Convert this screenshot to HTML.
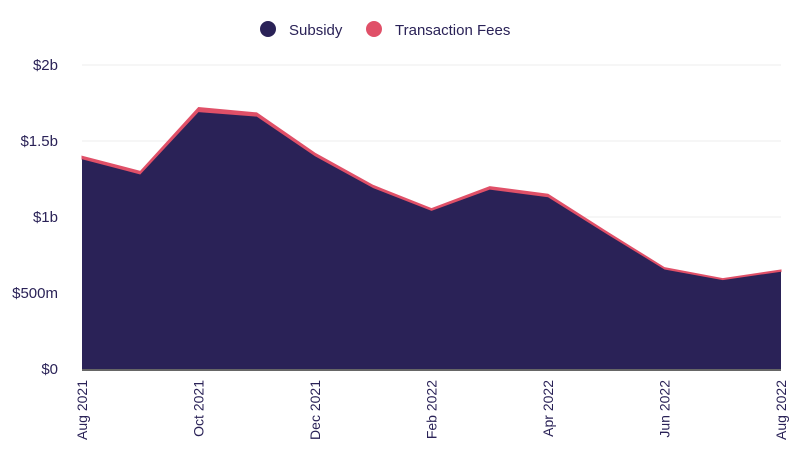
<!DOCTYPE html>
<html><head><meta charset="utf-8"><style>
body{margin:0;background:#fff;}
svg{display:block;font-family:"Liberation Sans",sans-serif;}
</style></head><body>
<svg id="chart" width="800" height="465">
<g>
<g>
<circle cx="268" cy="29" r="8" fill="#2a2257"/>
<text x="289" y="35" font-size="15" fill="#2a2257">Subsidy</text></g>
<g>
<circle cx="374" cy="29" r="8" fill="#e05068"/>
<text x="395" y="35" font-size="15" fill="#2a2257">Transaction Fees</text></g>
</g>
<g id="grid"></g>
<g id="yaxis"></g>
<g id="areas"></g>
<g id="xaxis"></g>
</svg>
<script>
const months=["Aug 2021","Sep 2021","Oct 2021","Nov 2021","Dec 2021","Jan 2022","Feb 2022","Mar 2022","Apr 2022","May 2022","Jun 2022","Jul 2022","Aug 2022"];
const subsidy=[1.38,1.28,1.69,1.66,1.40,1.19,1.04,1.18,1.13,0.89,0.655,0.585,0.64];
const fees=[0.02,0.02,0.03,0.025,0.02,0.018,0.015,0.02,0.02,0.015,0.012,0.01,0.012];
const yTicks=[0,0.5,1,1.5,2];
const yTickLabels=["$0","$500m","$1b","$1.5b","$2b"];
const xTickLabels=["Aug 2021","Oct 2021","Dec 2021","Feb 2022","Apr 2022","Jun 2022","Aug 2022"];

const ns="http://www.w3.org/2000/svg";
const X0=82,X1=781,Y0=369,Y1=65;
const xs=i=>X0+(X1-X0)*i/(months.length-1);
const ys=v=>Y0-(Y0-Y1)*v/2;
function mk(t,a,p){const e=document.createElementNS(ns,t);for(const k in a)e.setAttribute(k,a[k]);p.appendChild(e);return e;}
const grid=document.getElementById('grid'),ya=document.getElementById('yaxis'),ar=document.getElementById('areas'),xa=document.getElementById('xaxis');
yTicks.forEach((v,i)=>{
 const l=mk('line',{x1:X0,x2:X1,y1:ys(v),y2:ys(v),stroke:'#eeeeee','stroke-width':1},grid);
 
 
 const t=mk('text',{x:58,y:ys(v)+5,'text-anchor':'end','font-size':15,fill:'#2a2257'},ya);
 t.textContent=yTickLabels[i];
 
 
});
let topPath='';
months.forEach((m,i)=>{topPath+=(i?'L':'M')+xs(i)+','+ys(subsidy[i]+fees[i]);});
let feesPath=topPath;
for(let i=months.length-1;i>=0;i--)feesPath+='L'+xs(i)+','+ys(subsidy[i]);
feesPath+='Z';
let subPath='';
months.forEach((m,i)=>{subPath+=(i?'L':'M')+xs(i)+','+ys(subsidy[i]);});
subPath+='L'+xs(months.length-1)+','+Y0+'L'+X0+','+Y0+'Z';
const pf=mk('path',{d:feesPath,fill:'#e05068',stroke:'#e05068','stroke-width':1},ar);


const ps=mk('path',{d:subPath,fill:'#2a2257'},ar);


const base=mk('line',{x1:X0,x2:X1,y1:Y0+1,y2:Y0+1,stroke:'#666',"stroke-width":2},xa);


xTickLabels.forEach(lbl=>{
 const i=months.indexOf(lbl);const x=xs(i)+5;
 const t=mk('text',{x:x,y:380,'text-anchor':'end','font-size':14,fill:'#2a2257',transform:`rotate(-90 ${x} 380)`},xa);
 t.textContent=lbl;
 
 
});
</script>
</body></html>
